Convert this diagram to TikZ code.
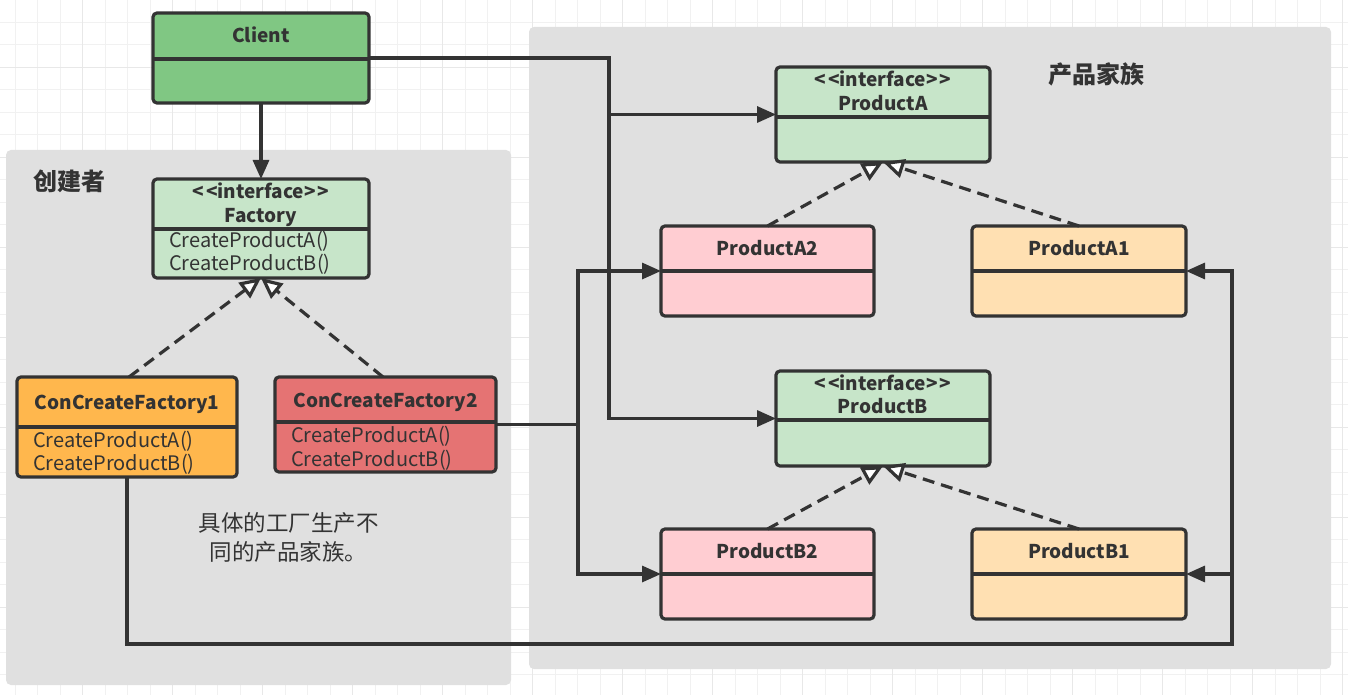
\documentclass[tikz,border=0pt]{standalone}
\usepackage{fontspec}
\setmainfont{Noto Sans CJK SC}
\usetikzlibrary{arrows.meta}
\definecolor{stk}{HTML}{333333}
\definecolor{grpbg}{HTML}{E0E0E0}
\definecolor{gridmin}{HTML}{F1F1F1}
\definecolor{gridmaj}{HTML}{E8E8E8}
\definecolor{clientc}{HTML}{80C783}
\definecolor{ifacec}{HTML}{C7E5C9}
\definecolor{cfonec}{HTML}{FFB74D}
\definecolor{cftwoc}{HTML}{E57373}
\definecolor{pinkc}{HTML}{FFCDD2}
\definecolor{peachc}{HTML}{FFE0B2}
\tikzset{
  box/.style={draw=stk, line width=3.2pt, rounded corners=4pt, inner sep=0pt, outer sep=0pt},
  divl/.style={draw=stk, line width=3.2pt},
  conn/.style={draw=stk, line width=3.2pt},
  arr/.style={conn, -{Triangle[length=19pt,width=16pt]}},
  real/.style={conn, dash pattern=on 12pt off 7pt, -{Triangle[open,length=21pt,width=19pt,fill=white]}},
  ttl/.style={text=stk, font=\fontsize{19}{22}\selectfont\bfseries, inner sep=0pt, anchor=base},
  mth/.style={text=stk, font=\fontsize{20}{23}\selectfont, inner sep=0pt, anchor=base west},
  grplabel/.style={text=stk, font=\fontsize{24}{28}\selectfont\bfseries, inner sep=0pt},
  desc/.style={text=stk, font=\fontsize{22.5}{28.5}\selectfont, inner sep=0pt, align=center},
  grp/.style={fill=grpbg, rounded corners=5pt},
}
\begin{document}
\begin{tikzpicture}[x=1pt,y=-1pt]
\useasboundingbox (0,0) rectangle (1348,695);
\fill[white] (0,0) rectangle (1348,695);
% grid
\foreach \k in {0,...,59} {
  \pgfmathsetmacro{\gx}{15+22.5*\k}
  \draw[gridmin, line width=0.9pt] (\gx,0) -- (\gx,695);
}
\foreach \k in {1,...,30} {
  \pgfmathsetmacro{\gy}{-0.3+22.5*\k}
  \draw[gridmin, line width=0.9pt] (0,\gy) -- (1348,\gy);
}
\foreach \k in {3,7,...,59} {
  \pgfmathsetmacro{\gx}{15+22.5*\k}
  \draw[gridmaj, line width=1pt] (\gx,0) -- (\gx,695);
}
\foreach \k in {3,7,...,30} {
  \pgfmathsetmacro{\gy}{-0.3+22.5*\k}
  \draw[gridmaj, line width=1pt] (0,\gy) -- (1348,\gy);
}
% groups
\path[grp] (6,150) rectangle (511,685);
\path[grp] (529,27) rectangle (1331,669);
\node[grplabel] (lblcreator) at (69.5,181) {创建者};
\node[grplabel] (lblfamily) at (1096.5,74) {产品家族};
\node[desc] (lbldesc) at (288.5,537.5) {具体的工厂生产不\\同的产品家族。};

% boxes
\node[box, fill=clientc, minimum width=216pt, minimum height=90pt] (client) at (261,58) {};
\draw[divl] (153,59) -- (369,59);
\node[ttl] (tclient) at (261,43) {Client};

\node[box, fill=ifacec, minimum width=216pt, minimum height=99pt] (factory) at (261,228.5) {};
\draw[divl] (153,229) -- (369,229);
\node[ttl] (tfac1) at (261,198) {<\kern2pt<interface>\kern2pt>};
\node[ttl] (tfac2) at (261,222) {Factory};
\node[mth] (mfac1) at (169,247) {CreateProductA()};
\node[mth] (mfac2) at (169,270) {CreateProductB()};

\node[box, fill=cfonec, minimum width=220pt, minimum height=100pt] (cf1) at (127,427) {};
\draw[divl] (17,427) -- (237,427);
\node[ttl] (tcf1) at (127,409) {ConCreateFactory1};
\node[mth] (mcf1a) at (33,447) {CreateProductA()};
\node[mth] (mcf1b) at (33,470) {CreateProductB()};

\node[box, fill=cftwoc, minimum width=221pt, minimum height=95pt] (cf2) at (385.5,424.5) {};
\draw[divl] (275,422) -- (496,422);
\node[ttl] (tcf2) at (385.5,407) {ConCreateFactory2};
\node[mth] (mcf2a) at (291,442) {CreateProductA()};
\node[mth] (mcf2b) at (291,466) {CreateProductB()};

\node[box, fill=ifacec, minimum width=214pt, minimum height=95pt] (pa) at (883,114.5) {};
\draw[divl] (776,117) -- (990,117);
\node[ttl] (tpa1) at (883,87) {<\kern2pt<interface>\kern2pt>};
\node[ttl] (tpa2) at (883,111) {ProductA};

\node[box, fill=pinkc, minimum width=213pt, minimum height=90pt] (pa2) at (767.5,271) {};
\draw[divl] (661,271) -- (874,271);
\node[ttl] (tpa2n) at (767.5,255) {ProductA2};

\node[box, fill=peachc, minimum width=214pt, minimum height=90pt] (pa1) at (1079,271) {};
\draw[divl] (972,271) -- (1186,271);
\node[ttl] (tpa1n) at (1079,255) {ProductA1};

\node[box, fill=ifacec, minimum width=214pt, minimum height=95pt] (pb) at (883,418.5) {};
\draw[divl] (776,420) -- (990,420);
\node[ttl] (tpb1) at (883,390) {<\kern2pt<interface>\kern2pt>};
\node[ttl] (tpb2) at (883,413) {ProductB};

\node[box, fill=pinkc, minimum width=213pt, minimum height=90pt] (pb2) at (767.5,574) {};
\draw[divl] (661,574) -- (874,574);
\node[ttl] (tpb2n) at (767.5,558) {ProductB2};

\node[box, fill=peachc, minimum width=214pt, minimum height=90pt] (pb1) at (1079,574) {};
\draw[divl] (972,574) -- (1186,574);
\node[ttl] (tpb1n) at (1079,558) {ProductB1};

% junction coordinates
\coordinate (jc) at (609,58);
\coordinate (ja) at (609,114.5);
\coordinate (jb) at (609,418.5);
\coordinate (k0) at (578,424.5);
\coordinate (ka) at (578,271);
\coordinate (kb) at (578,574);
\coordinate (m0) at (127,644);
\coordinate (m1) at (1232,644);
\coordinate (ma) at (1232,271);
\coordinate (mb) at (1232,574);

% connectors
\draw[arr] (client.south) -- (factory.north);
\draw[conn, line join=miter] (client.east) -- (jc) -- (ja);
\draw[arr] (jc) -- (jb) -- (pb.west);
\draw[arr] (ja) -- (pa.west);

\draw[conn] (cf2.east) -- (k0);
\draw[arr] (k0) -- (ka) -- (pa2.west);
\draw[arr] (k0) -- (kb) -- (pb2.west);

\draw[conn] (cf1.south) -- (m0) -- (m1) -- (mb);
\draw[arr] (mb) -- (ma) -- (pa1.east);
\draw[arr] (mb) -- (pb1.east);

% realizations
\draw[real] (129,377) -- (factory.south);
\draw[real] (383,377) -- (factory.south);
\draw[real] (pa2.north) -- (pa.south);
\draw[real] (pa1.north) -- (pa.south);
\draw[real] (pb2.north) -- (pb.south);
\draw[real] (pb1.north) -- (pb.south);
\end{tikzpicture}
\end{document}
